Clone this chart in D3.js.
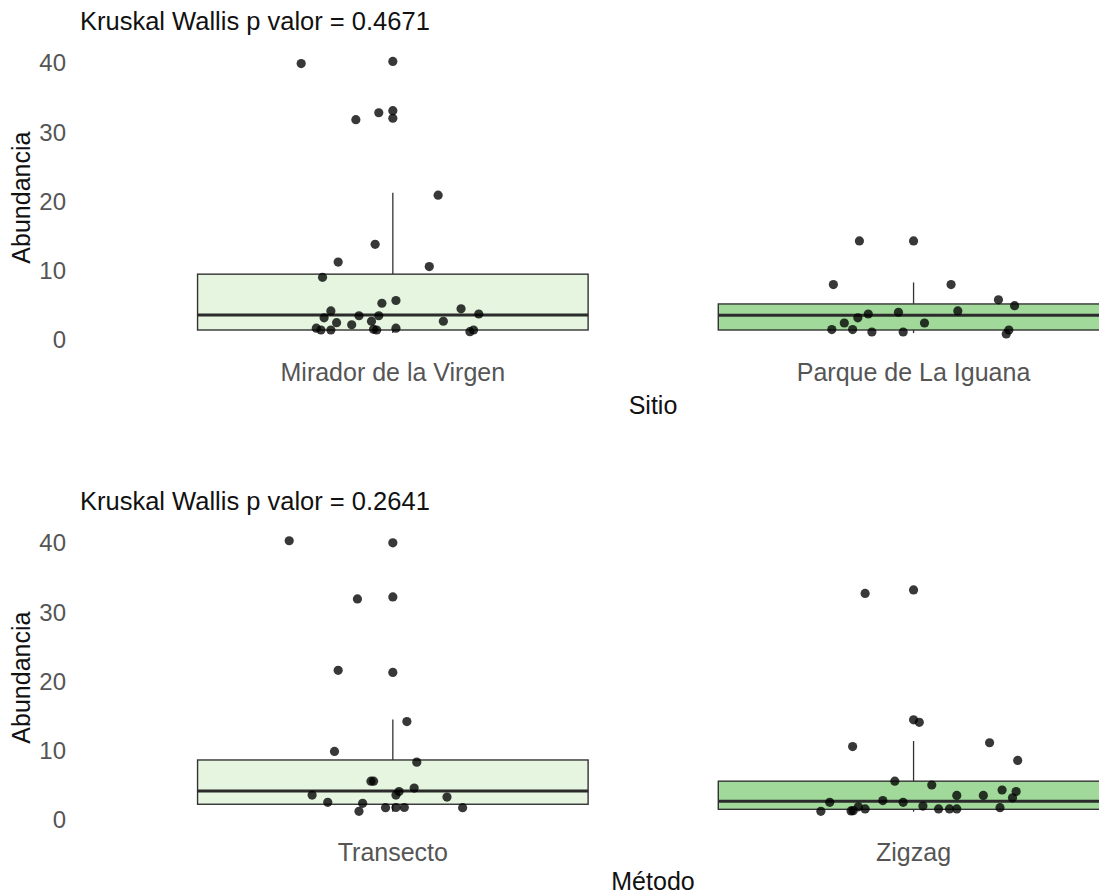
<!DOCTYPE html>
<html>
<head>
<meta charset="utf-8">
<script src="https://cdn.jsdelivr.net/npm/d3@7/dist/d3.min.js"></script>
<style>
  html, body { margin: 0; padding: 0; background: #ffffff; }
  svg { display: block; font-family: "Liberation Sans", Arial, Helvetica, sans-serif; }
</style>
</head>
<body>
<svg id="chart" width="1099" height="895"></svg>
<script>
// ---- Panel 1: abundance by site ----
const sitioCategories = ["Mirador de la Virgen", "Parque de La Iguana"];
const sitioTitle = "Kruskal Wallis p valor = 0.4671";
const sitioAxisTitle = "Sitio";

// Observed abundance (jittered) and horizontal jitter in category units
const miradorValues = [39.9, 40.2, 31.8, 32.8, 33.1, 32.0, 20.9, 13.8, 11.25, 9.05, 10.6, 5.3, 5.7, 4.2, 3.2, 3.5,
  2.5, 2.2, 2.7, 3.5, 1.7, 1.44, 1.44, 1.54, 1.44, 1.7, 2.7, 4.5, 3.75, 1.2, 1.44];
const miradorJitter = [-0.176, 0.0, -0.071, -0.027, 0.0, 0.0, 0.087, -0.034, -0.105, -0.135, 0.070, -0.021, 0.006, -0.119, -0.132, -0.065,
  -0.108, -0.079, -0.041, -0.027, -0.147, -0.138, -0.119, -0.037, -0.031, 0.006, 0.097, 0.131, 0.165, 0.148, 0.155];

const parqueValues = [14.3, 14.3, 8.0, 8.0, 5.8, 4.95, 4.2, 4.0, 3.75, 3.2, 2.45, 2.45, 1.5, 1.5, 1.15, 1.15, 1.44, 0.87];
const parqueJitter = [-0.104, 0.0, -0.154, 0.072, 0.163, 0.194, 0.085, -0.029, -0.087, -0.107, -0.133, 0.021, -0.157, -0.117, -0.080, -0.020, 0.183, 0.178];

// Box statistics: [lower whisker, Q1, median, Q3, upper whisker]
const miradorStats = [1.0, 1.44, 3.6, 9.5, 21.25];
const parqueStats = [1.0, 1.44, 3.56, 5.2, 8.3];

// ---- Panel 2: abundance by method ----
const metodoCategories = ["Transecto", "Zigzag"];
const metodoTitle = "Kruskal Wallis p valor = 0.2641";
const metodoAxisTitle = "Método";

const transectoValues = [40.3, 40.0, 31.9, 32.2, 21.6, 21.3, 14.2, 9.9, 8.35, 5.6, 5.6, 3.6, 2.55, 2.4, 1.25, 1.77,
  1.8, 1.8, 4.1, 3.6, 4.6, 3.3, 1.77];
const transectoJitter = [-0.199, 0.0, -0.068, 0.0, -0.105, 0.0, 0.027, -0.112, 0.046, -0.042, -0.037, -0.155, -0.125, -0.058, -0.065, -0.014,
  0.006, 0.022, 0.012, 0.006, 0.041, 0.104, 0.134];

const zigzagValues = [32.7, 33.2, 14.45, 14.1, 10.6, 11.15, 8.6, 5.6, 5.05, 3.55, 3.55, 4.33, 4.1, 3.2, 2.55, 2.8,
  2.55, 2.0, 1.25, 1.3, 1.35, 1.9, 1.6, 1.6, 1.6, 1.6, 1.77];
const zigzagJitter = [-0.093, 0.0, 0.0, 0.011, -0.117, 0.146, 0.200, -0.036, 0.035, 0.083, 0.134, 0.170, 0.197, 0.190, -0.161, -0.059,
  -0.020, 0.018, -0.178, -0.120, -0.116, -0.106, -0.093, 0.048, 0.069, 0.083, 0.166];

const transectoStats = [1.2, 2.27, 4.2, 8.66, 14.5];
const zigzagStats = [1.2, 1.54, 2.7, 5.6, 11.4];

const yTicks = [0, 10, 20, 30, 40];
const yAxisTitle = "Abundancia";
const boxFills = ["#e5f5e0", "#a1d99b"];

// ---- drawing ----
const svg = d3.select("#chart");
const FONT = 25;
const TICK_FONT = 24;

function drawPanel(cfg) {
  const g = svg.append("g").attr("transform", `translate(0,${cfg.offsetY})`);

  // discrete x: ggplot-style expansion of 0.6 category units on each side
  const x = d3.scalePoint().domain(cfg.categories).range([80.4, 1226]).padding(0.6);
  const step = x.step();
  const y = d3.scaleLinear().domain([-1.1, 42.2]).range([347.6, 47.6]);

  const groups = cfg.categories.map((c, i) => ({
    cat: c, values: cfg.values[i], jitter: cfg.jitter[i], stats: cfg.stats[i], fill: boxFills[i]
  }));

  // boxes
  const boxW = step * 0.75;
  const bx = g.append("g");
  groups.forEach(grp => {
    const cx = x(grp.cat);
    const [lo, q1, med, q3, hi] = grp.stats;
    bx.append("line").attr("x1", cx).attr("x2", cx).attr("y1", y(q3)).attr("y2", y(hi))
      .attr("stroke", "#333333").attr("stroke-width", 1.3);
    bx.append("line").attr("x1", cx).attr("x2", cx).attr("y1", y(q1)).attr("y2", y(lo))
      .attr("stroke", "#333333").attr("stroke-width", 1.3);
    bx.append("rect").attr("x", cx - boxW / 2).attr("width", boxW)
      .attr("y", y(q3)).attr("height", y(q1) - y(q3))
      .attr("fill", grp.fill).attr("stroke", "#333333").attr("stroke-width", 1.4);
    bx.append("line").attr("x1", cx - boxW / 2).attr("x2", cx + boxW / 2)
      .attr("y1", y(med)).attr("y2", y(med))
      .attr("stroke", "#2b2b2b").attr("stroke-width", 3);
  });

  // jittered observations
  const pts = g.append("g");
  groups.forEach(grp => {
    pts.selectAll(null).data(grp.values.map((v, k) => ({ v, j: grp.jitter[k] })))
      .join("circle")
      .attr("cx", d => x(grp.cat) + d.j * step)
      .attr("cy", d => y(d.v))
      .attr("r", 4.6)
      .attr("fill", "#000000")
      .attr("fill-opacity", 0.78);
  });

  // y tick labels
  g.append("g").selectAll("text").data(yTicks).join("text")
    .attr("x", 66).attr("y", d => y(d))
    .attr("text-anchor", "end").attr("dominant-baseline", "central")
    .attr("fill", "#555555").attr("font-size", TICK_FONT)
    .text(d => d);

  // x tick labels
  g.append("g").selectAll("text").data(cfg.categories).join("text")
    .attr("x", d => x(d)).attr("y", 372)
    .attr("text-anchor", "middle").attr("dominant-baseline", "central")
    .attr("fill", "#555555").attr("font-size", FONT)
    .text(d => d);

  // axis titles
  g.append("text").attr("x", 653).attr("y", cfg.axisTitleY)
    .attr("text-anchor", "middle").attr("dominant-baseline", "central")
    .attr("fill", "#111111").attr("font-size", FONT).text(cfg.axisTitle);
  g.append("text")
    .attr("transform", `translate(21,${(y.range()[0] + y.range()[1]) / 2}) rotate(-90)`)
    .attr("text-anchor", "middle").attr("dominant-baseline", "central")
    .attr("fill", "#111111").attr("font-size", FONT).text(yAxisTitle);

  // plot title
  g.append("text").attr("x", 80).attr("y", 30)
    .attr("fill", "#111111").attr("font-size", 25.5).text(cfg.title);
}

drawPanel({
  offsetY: 0, categories: sitioCategories, title: sitioTitle, axisTitle: sitioAxisTitle, axisTitleY: 405,
  values: [miradorValues, parqueValues], jitter: [miradorJitter, parqueJitter], stats: [miradorStats, parqueStats]
});
drawPanel({
  offsetY: 480, categories: metodoCategories, title: metodoTitle, axisTitle: metodoAxisTitle, axisTitleY: 401,
  values: [transectoValues, zigzagValues], jitter: [transectoJitter, zigzagJitter], stats: [transectoStats, zigzagStats]
});
</script>
</body>
</html>
